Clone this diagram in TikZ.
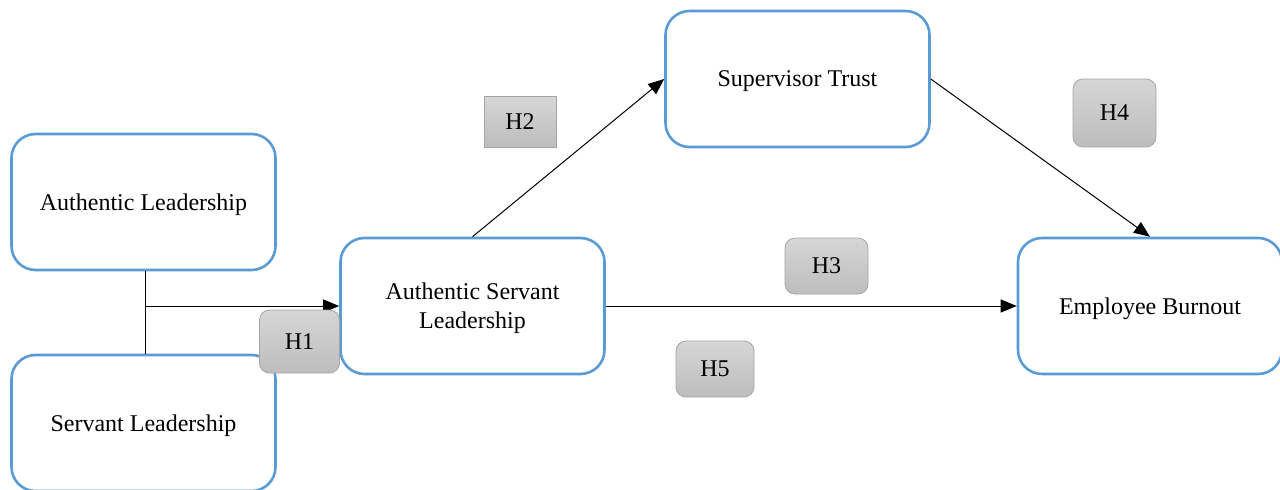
\documentclass[tikz,border=0pt]{standalone}
\usepackage{fontspec}
\setmainfont{Liberation Serif}
\usetikzlibrary{arrows.meta,positioning}
\definecolor{boxblue}{HTML}{5B9BD5}
\definecolor{hyptop}{HTML}{D6D6D6}
\definecolor{hypbot}{HTML}{BDBDBD}
\definecolor{hypline}{HTML}{A5A5A5}
\tikzset{
  construct/.style={draw=boxblue, line width=1.3pt, rounded corners=12pt, fill=white,
    minimum width=132pt, minimum height=68pt, align=center, text depth=0pt,
    font=\fontsize{12}{14.5}\selectfont},
  hyp/.style={draw=hypline, line width=0.4pt, rounded corners=5pt, top color=hyptop, bottom color=hypbot,
    align=center, font=\fontsize{12}{14}\selectfont, inner sep=0pt},
  link/.style={line width=0.5pt, -{Triangle[length=8pt,width=6.5pt]}},
}
\begin{document}
\begin{tikzpicture}[x=0.5pt,y=-0.5pt]
\useasboundingbox (0,0) rectangle (1280,489);
% constructs
\node[construct] (al) at (143.5,202) {Authentic Leadership};
\node[construct] (sl) at (143.5,423) {Servant Leadership};
\node[construct] (asl) at (472.5,306) {Authentic Servant\\Leadership};
\node[construct] (st) at (797.5,79) {Supervisor Trust};
\node[construct] (eb) at (1150,306) {Employee Burnout};
% joint path from the two leadership styles
\coordinate (jn) at (145,306);
\draw[line width=0.5pt] (al.south -| jn) -- (sl.north -| jn);
\draw[link] (jn) -- (jn -| asl.west);
% paths
\draw[link] (asl.north) -- (st.west);
\draw[link] (st.east) -- (eb.north);
\draw[link] (asl.east) -- (eb.west);
% hypothesis labels
\node[hyp, minimum width=40pt, minimum height=31.5pt] (h1) at (299.5,341.5) {H1};
\node[hyp, rounded corners=0pt, minimum width=36pt, minimum height=25.5pt] (h2) at (520,121.5) {H2};
\node[hyp, minimum width=41.5pt, minimum height=28pt] (h3) at (826.5,266) {H3};
\node[hyp, minimum width=41.5pt, minimum height=34pt] (h4) at (1114.5,113) {H4};
\node[hyp, minimum width=39pt, minimum height=28pt] (h5) at (715,369) {H5};
\end{tikzpicture}
\end{document}
